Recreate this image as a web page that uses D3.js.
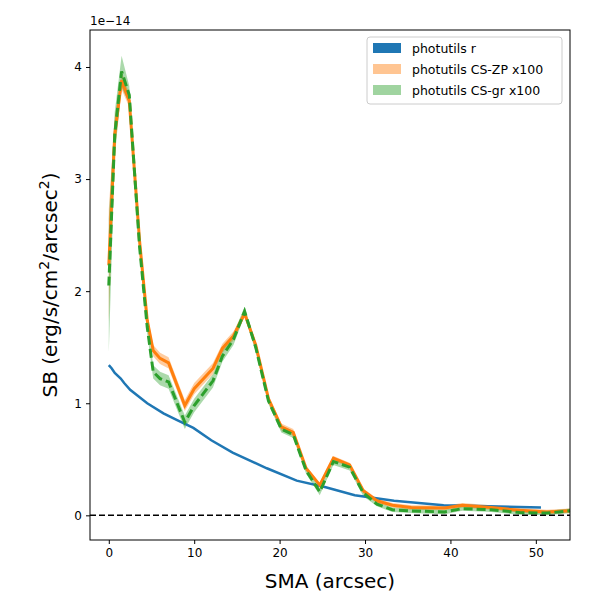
<!DOCTYPE html>
<html><head><meta charset="utf-8">
<script src="https://cdn.jsdelivr.net/npm/d3@7"></script>
<style>body{margin:0;background:#fff}text{font-family:"DejaVu Sans",sans-serif}</style>
</head><body><svg id="c" width="600" height="600"></svg>
<script>
// values in units of 1e-14 erg/s/cm^2/arcsec^2
const blueX = [0.0,0.35,0.7,1.4,1.8,2.5,4.5,6.4,8.0,9.9,12.0,14.5,18.5,22.0,25.4,28.8,33.4,39.2,50.6];
const blueY = [1.34,1.31,1.27,1.22,1.18,1.12,1.0,0.91,0.85,0.78,0.67,0.56,0.42,0.31,0.25,0.18,0.13,0.09,0.07];
const cx = [0.0,0.7,1.5,2.4,3.6,4.5,5.2,6.0,7.0,8.9,10.0,12.2,13.3,14.6,15.9,17.2,18.7,20.2,21.6,23.1,24.7,26.3,28.2,29.8,31.4,33.2,35.4,39.3,41.4,44.8,48.1,51.3,54.0];
const zpY = [2.23,3.4,3.88,3.7,2.45,1.74,1.47,1.40,1.36,0.98,1.13,1.31,1.49,1.60,1.80,1.52,1.04,0.79,0.74,0.42,0.27,0.51,0.45,0.22,0.13,0.09,0.07,0.065,0.09,0.07,0.045,0.03,0.04];
const zpE = [0.5,0.15,0.08,0.06,0.04,0.05,0.05,0.05,0.05,0.05,0.05,0.05,0.04,0.04,0.03,0.03,0.03,0.03,0.03,0.02,0.02,0.02,0.02,0.02,0.02,0.02,0.02,0.02,0.02,0.02,0.02,0.02,0.02];
const grY = [2.05,3.4,3.96,3.75,2.4,1.68,1.28,1.22,1.19,0.83,0.98,1.2,1.42,1.57,1.82,1.50,1.02,0.77,0.72,0.40,0.21,0.48,0.43,0.2,0.1,0.05,0.04,0.03,0.06,0.05,0.025,0.02,0.04];
const grE = [0.6,0.2,0.14,0.08,0.05,0.06,0.06,0.06,0.06,0.06,0.06,0.06,0.05,0.05,0.04,0.04,0.03,0.03,0.03,0.03,0.03,0.03,0.03,0.03,0.02,0.02,0.02,0.02,0.02,0.02,0.02,0.02,0.02];
const legendLabels = ["photutils r","photutils CS-ZP x100","photutils CS-gr x100"];

const svg = d3.select("#c");
const L=90,R=570,T=30,B=540;
const x = d3.scaleLinear().domain([-2.2,54]).range([L,R]);
const y = d3.scaleLinear().domain([-0.22,4.33]).range([B,T]);

const area = (ys,es)=>d3.area().x((d,i)=>x(cx[i])).y0((d,i)=>y(ys[i]-es[i])).y1((d,i)=>y(ys[i]+es[i]))(cx);
const line = d3.line().x(d=>x(d[0])).y(d=>y(d[1]));

svg.append("path").attr("d",area(zpY,zpE)).attr("fill","#ff7f0e").attr("opacity",0.4);
svg.append("path").attr("d",area(grY,grE)).attr("fill","#2ca02c").attr("opacity",0.4);
svg.append("path").attr("d",line(blueX.map((v,i)=>[v,blueY[i]]))).attr("fill","none").attr("stroke","#1f77b4").attr("stroke-width",2.5);
svg.append("path").attr("d",line(cx.map((v,i)=>[v,zpY[i]]))).attr("fill","none").attr("stroke","#ff7f0e").attr("stroke-width",3);
svg.append("path").attr("d",line(cx.map((v,i)=>[v,grY[i]]))).attr("fill","none").attr("stroke","#2ca02c").attr("stroke-width",3).attr("stroke-dasharray","9,4");
svg.append("line").attr("x1",L).attr("x2",R).attr("y1",y(0)).attr("y2",y(0)).attr("stroke","#000").attr("stroke-width",1.5).attr("stroke-dasharray","6,3");

svg.append("rect").attr("x",L).attr("y",T).attr("width",R-L).attr("height",B-T).attr("fill","none").attr("stroke","#000");
const xa = svg.append("g").attr("transform",`translate(0,${B})`).call(d3.axisBottom(x).tickValues([0,10,20,30,40,50]).tickFormat(d3.format("d")).tickSize(4).tickPadding(4));
const ya = svg.append("g").attr("transform",`translate(${L},0)`).call(d3.axisLeft(y).tickValues([0,1,2,3,4]).tickFormat(d3.format("d")).tickSize(4).tickPadding(4));
[xa,ya].forEach(a=>{a.select(".domain").remove();a.selectAll("text").attr("font-size",12).attr("fill","#000");});

svg.append("text").attr("x",90).attr("y",25).attr("font-size",12).text("1e\u221214");
svg.append("text").attr("x",330).attr("y",588).attr("text-anchor","middle").attr("font-size",20).text("SMA (arcsec)");
const yl = svg.append("text").attr("transform","translate(57,285) rotate(-90)").attr("text-anchor","middle").attr("font-size",20);
yl.append("tspan").text("SB (erg/s/cm");
yl.append("tspan").attr("baseline-shift","super").attr("font-size",14).text("2");
yl.append("tspan").text("/arcsec");
yl.append("tspan").attr("baseline-shift","super").attr("font-size",14).text("2");
yl.append("tspan").text(")");

const lg = svg.append("g");
lg.append("rect").attr("x",367).attr("y",37).attr("width",195).attr("height",67).attr("rx",3).attr("fill","#fff").attr("stroke","#ccc");
const sw = [{c:"#1f77b4",o:1},{c:"#ff7f0e",o:0.45},{c:"#2ca02c",o:0.45}];
legendLabels.forEach((t,i)=>{
  const yy=48+i*21;
  lg.append("rect").attr("x",373).attr("y",yy-5).attr("width",28).attr("height",10).attr("fill",sw[i].c).attr("opacity",sw[i].o);
  lg.append("text").attr("x",412).attr("y",yy+4.5).attr("font-size",12.5).text(t);
});
</script></body></html>
